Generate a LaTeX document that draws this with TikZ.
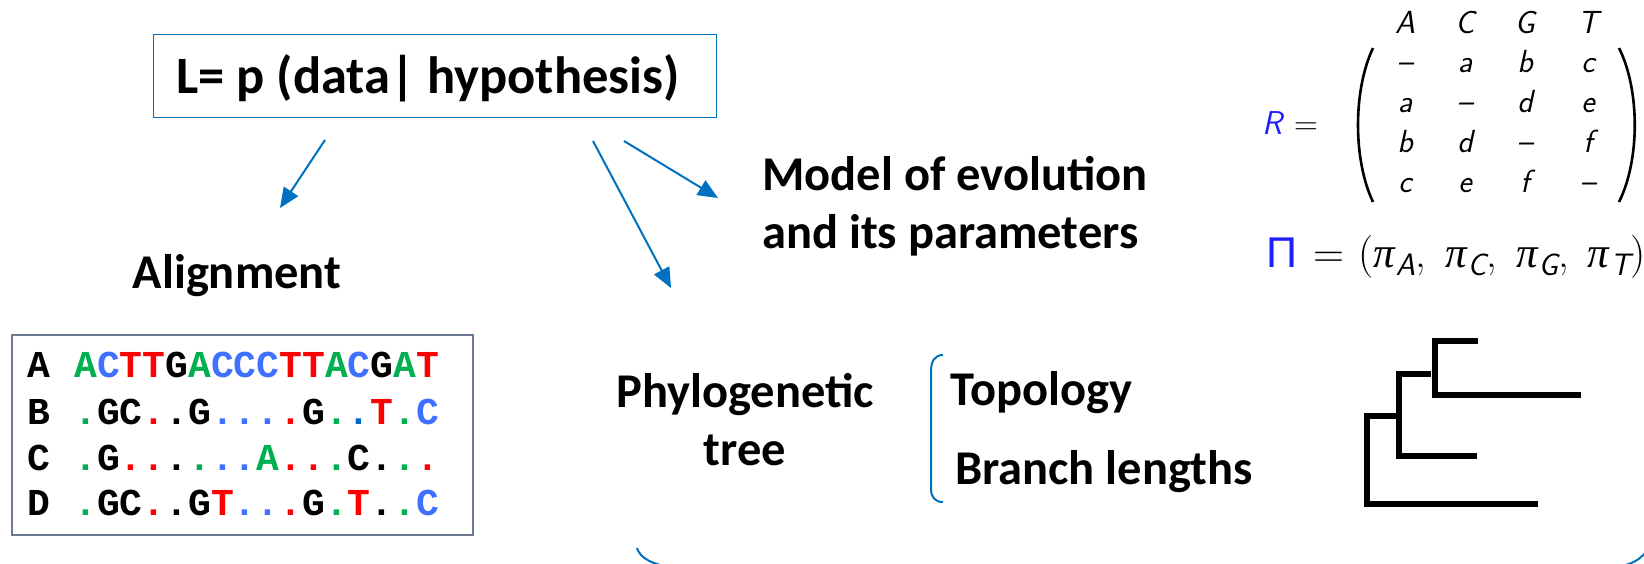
\documentclass[tikz,border=0pt]{standalone}
\usepackage{fontspec}
\usetikzlibrary{arrows.meta}
\newfontfamily\calib{Carlito}
\newfontfamily\grksans{Liberation Sans}
\newfontfamily\grkit{Liberation Serif}
\newfontfamily\seqfont{Liberation Mono}

\definecolor{linkblue}{RGB}{0,112,192}
\definecolor{framegray}{RGB}{110,122,145}
\definecolor{ntgreen}{RGB}{0,176,80}
\definecolor{ntblue}{RGB}{64,112,255}
\definecolor{ntdblue}{RGB}{0,102,204}
\definecolor{ntred}{RGB}{255,0,0}
\definecolor{mathblue}{RGB}{30,30,255}

\newcommand\Gn[1]{\textcolor{ntgreen}{#1}}
\newcommand\Bl[1]{\textcolor{ntblue}{#1}}
\newcommand\Db[1]{\textcolor{ntdblue}{#1}}
\newcommand\Rd[1]{\textcolor{ntred}{#1}}
% italic sans letter
\newcommand\si[1]{{\sffamily\itshape #1}}
% frequency symbol with a lowered base index
\newcommand\freq[1]{{\grkit\itshape π}\hspace{1pt}\raisebox{-8pt}{\fontsize{31}{31}\selectfont\sffamily\itshape #1}}

\tikzset{
  x=1pt, y=-1pt,
  titlebox/.style={draw=linkblue, line width=1.8pt, minimum width=563pt,
    minimum height=83pt, inner sep=0pt},
  titletext/.style={inner sep=0pt, font=\calib\bfseries\fontsize{52.5}{63}\selectfont},
  lbl/.style={inner sep=0pt, font=\calib\bfseries\fontsize{48.5}{58}\selectfont},
  arr/.style={draw=linkblue, line width=2pt, -{Triangle[length=20pt,width=17pt]}},
  seq/.style={inner sep=0pt, anchor=base west,
    font=\fontsize{38}{44}\selectfont\seqfont\bfseries},
  matent/.style={inner sep=0pt, anchor=base, font=\fontsize{32}{38}\selectfont\sffamily\itshape},
  parenline/.style={draw=black, line width=2.6pt},
  brk/.style={draw=linkblue, line width=2pt},
  branch/.style={draw=black, line width=5.5pt},
}

\begin{document}
\begin{tikzpicture}
\useasboundingbox (0,0) rectangle (1644,563);
\fill[white] (0,0) rectangle (1644,563);

% likelihood definition
\node[titlebox] (title) at (435,76) {};
\node[titletext, anchor=base] (titletxt) at (428,93) {L= p (data| hypothesis)};

% the three ingredients
\node[lbl, anchor=base] (aln) at (237,288) {Alignment};
\node[lbl, anchor=west, align=left] (model) at (762,206) {Model of evolution\\and its parameters};
\node[lbl, anchor=center, align=center] (phylo) at (745,420) {Phylogenetic\\tree};
\node[lbl, anchor=base west] (topo) at (950,405) {Topology};
\node[lbl, anchor=base west] (blen) at (955,484) {Branch lengths};

\coordinate (a1s) at (325,140);
\coordinate (a1e) at (280,208);
\coordinate (a2s) at (593,141);
\coordinate (a2e) at (671,288);
\coordinate (a3s) at (624,141);
\coordinate (a3e) at (718,198);
\draw[arr] (a1s) -- (a1e);
\draw[arr] (a2s) -- (a2e);
\draw[arr] (a3s) -- (a3e);

% alignment block
\node[draw=framegray, line width=2pt, minimum width=461pt, minimum height=200pt,
  inner sep=0pt] (alnbox) at (242.5,435) {};
\node[seq] (la) at (27,377) {A};
\node[seq] (lb) at (27,424) {B};
\node[seq] (lc) at (27,470) {C};
\node[seq] (ld) at (27,515) {D};
\node[seq] (sa) at (74,377) {\Gn{A}\Bl{C}\Rd{TT}G\Gn{A}\Bl{CCC}\Rd{TT}\Gn{A}\Bl{C}G\Gn{A}\Rd{T}};
\node[seq] (sb) at (74,424) {\Gn{.}GC\Rd{.}.G\Bl{...}\Rd{.}G\Gn{.}\Db{.}\Rd{T}\Gn{.}\Bl{C}};
\node[seq] (sc) at (74,470) {\Gn{.}G\Rd{..}.\Gn{.}\Bl{..}\Gn{A}\Rd{..}\Gn{.}C.\Gn{.}\Rd{.}};
\node[seq] (sd) at (74,515) {\Gn{.}GC\Rd{.}.G\Rd{T}\Bl{..}\Rd{.}G\Gn{.}\Rd{T}.\Gn{.}\Bl{C}};

% rate matrix
\node[inner sep=0pt, anchor=base west, font=\fontsize{33}{38}\selectfont] (rlab) at (1262,134)
  {\textcolor{mathblue}{\si{R}}\hspace{12pt}=};
\coordinate (lpt) at (1373,48);
\coordinate (lpb) at (1373,202);
\coordinate (rpt) at (1619,48);
\coordinate (rpb) at (1619,202);
\draw[parenline] (lpt) .. controls (1353,90) and (1353,160) .. (lpb);
\draw[parenline] (rpt) .. controls (1640,90) and (1640,160) .. (rpb);
\node[matent] (hA) at (1405,33) {A};
\node[matent] (hC) at (1465,33) {C};
\node[matent] (hG) at (1525,33) {G};
\node[matent] (hT) at (1588,33) {T};
\node[matent] (m11) at (1405,72) {\textendash};
\node[matent] (m12) at (1465,72) {a};
\node[matent] (m13) at (1525,72) {b};
\node[matent] (m14) at (1588,72) {c};
\node[matent] (m21) at (1405,112) {a};
\node[matent] (m22) at (1465,112) {\textendash};
\node[matent] (m23) at (1525,112) {d};
\node[matent] (m24) at (1588,112) {e};
\node[matent] (m31) at (1405,152) {b};
\node[matent] (m32) at (1465,152) {d};
\node[matent] (m33) at (1525,152) {\textendash};
\node[matent] (m34) at (1588,152) {f};
\node[matent] (m41) at (1405,192) {c};
\node[matent] (m42) at (1465,192) {e};
\node[matent] (m43) at (1525,192) {f};
\node[matent] (m44) at (1588,192) {\textendash};

% base frequencies
\node[inner sep=0pt, anchor=base west, font=\fontsize{43}{50}\selectfont] (pi) at (1266,267)
  {\textcolor{mathblue}{\grksans Π}\hspace{16pt}=\hspace{14pt}(\freq{A},\hspace{19pt}\freq{C},\hspace{19pt}\freq{G},\hspace{19pt}\freq{T})};

% small tree
\draw[branch] (1538,504) -| (1367,416) -- (1399,416);
\draw[branch] (1477,456) -| (1399,374) -- (1431,374);
\draw[branch] (1581,395) -| (1435,341) -- (1478,341);

% brackets
\draw[brk] (943,355) .. controls (935,355) and (931,361) .. (931,371)
  -- (931,489) .. controls (931,497) and (935,502) .. (943,502);
\draw[brk] (637,548) .. controls (640,558) and (652,565) .. (676,568);
\draw[brk] (1604,568) .. controls (1630,567) and (1642,560) .. (1650,546);
\end{tikzpicture}
\end{document}
